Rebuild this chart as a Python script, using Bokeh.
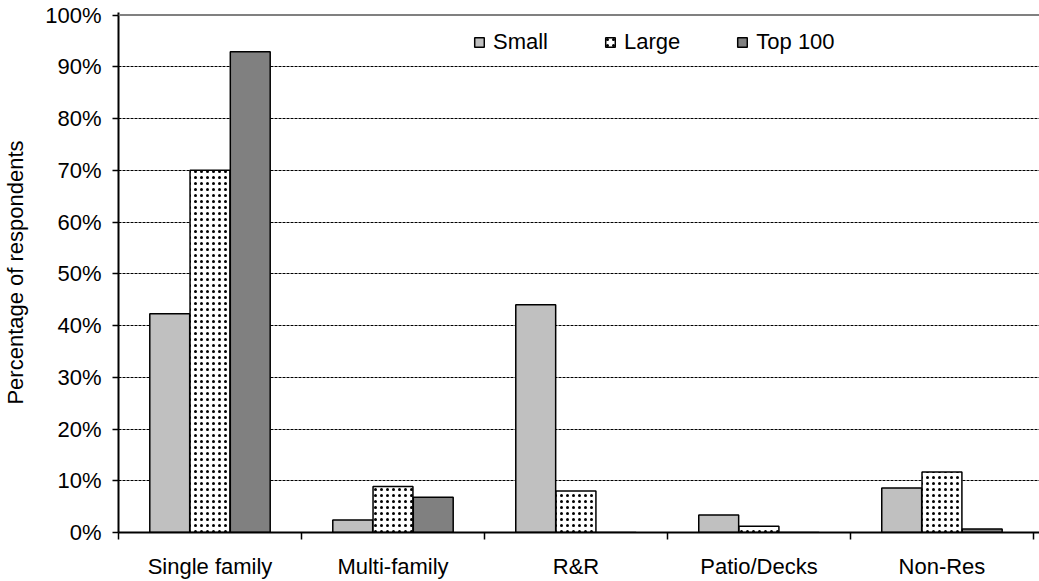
from bokeh.plotting import figure
from bokeh.models import (ColumnDataSource, Range1d, FixedTicker, PrintfTickFormatter,
                          Legend, LegendItem, Span)
from bokeh.transform import dodge
from bokeh.embed import file_html
from bokeh.resources import INLINE

# Market segments served, by builder size
categories = ["Single family", "Multi-family", "R&R", "Patio/Decks", "Non-Res"]
small = [42.3, 2.4, 44.0, 3.4, 8.6]
large = [70.0, 8.9, 8.0, 1.2, 11.7]
top100 = [92.9, 6.8, 0.0, 0.0, 0.7]
y_ticks = [0, 10, 20, 30, 40, 50, 60, 70, 80, 90, 100]

FONT = "Liberation Sans"
FS = "22px"

xpos = [i + 0.5 for i in range(len(categories))]
source = ColumnDataSource(dict(x=xpos, cat=categories, small=small, large=large, top100=top100))

p = figure(width=1039, height=581, output_backend="svg", toolbar_location=None,
           x_range=Range1d(0, 5.033), y_range=Range1d(0, 100.5),
           min_border_left=118, min_border_right=0, min_border_top=12, min_border_bottom=49)
p.outline_line_color = None
p.background_fill_color = "white"
p.border_fill_color = "white"

bw = 0.218
r_small = p.vbar(x=dodge("x", -0.22), top="small", width=bw, source=source,
                 fill_color="#C0C0C0", line_color="black", line_width=1.5)
r_large = p.vbar(x=dodge("x", 0.0), top="large", width=bw, source=source,
                 fill_color="white", line_color="black", line_width=1.5,
                 hatch_pattern="dot", hatch_color="black", hatch_scale=6, hatch_weight=4.5)
r_top = p.vbar(x=dodge("x", 0.22), top="top100", width=bw, source=source,
               fill_color="#808080", line_color="black", line_width=1.5)

# top boundary line at 100%
p.add_layout(Span(location=100, dimension="width", line_color="#808080", line_width=2))

# grid
p.xgrid.grid_line_color = None
p.ygrid.ticker = FixedTicker(ticks=y_ticks[1:-1])
p.ygrid.grid_line_color = "black"
p.ygrid.grid_line_dash = "3 1"
p.ygrid.grid_line_width = 1

# y axis
ya = p.yaxis[0]
ya.ticker = FixedTicker(ticks=y_ticks)
ya.formatter = PrintfTickFormatter(format="%d%%")
ya.axis_label = "Percentage of respondents"
ya.axis_label_text_font = FONT
ya.axis_label_text_font_size = FS
ya.axis_label_text_font_style = "normal"
ya.axis_label_text_color = "black"
ya.axis_label_standoff = 14
ya.major_label_text_font = FONT
ya.major_label_text_font_size = FS
ya.major_label_text_color = "black"
ya.major_label_standoff = 11
ya.major_tick_out = 6
ya.major_tick_in = 0
ya.minor_tick_out = 0
ya.minor_tick_in = 0
ya.axis_line_color = "black"
ya.axis_line_width = 2
ya.major_tick_line_color = "black"
ya.major_tick_line_width = 1.5

# x axis: labels centred on each group, tick marks between groups
xa = p.xaxis[0]
xa.ticker = FixedTicker(ticks=xpos, minor_ticks=list(range(len(categories) + 1)))
xa.major_label_overrides = {x: c for x, c in zip(xpos, categories)}
xa.major_label_text_font = FONT
xa.major_label_text_font_size = FS
xa.major_label_text_color = "black"
xa.major_label_standoff = 14
xa.major_tick_out = 0
xa.major_tick_in = 0
xa.minor_tick_out = 7
xa.minor_tick_in = 0
xa.minor_tick_line_color = "black"
xa.minor_tick_line_width = 1.5
xa.axis_line_color = "black"
xa.axis_line_width = 2

legend = Legend(items=[LegendItem(label="Small", renderers=[r_small]),
                       LegendItem(label="Large", renderers=[r_large]),
                       LegendItem(label="Top 100", renderers=[r_top])],
                orientation="horizontal", location=(355, 477),
                border_line_alpha=0, background_fill_alpha=0,
                padding=0, margin=0, spacing=56,
                glyph_width=12, glyph_height=12, label_standoff=8,
                label_text_font=FONT, label_text_font_size=FS, label_text_color="black")
p.add_layout(legend)

open("out.html", "w").write(file_html(p, INLINE))
